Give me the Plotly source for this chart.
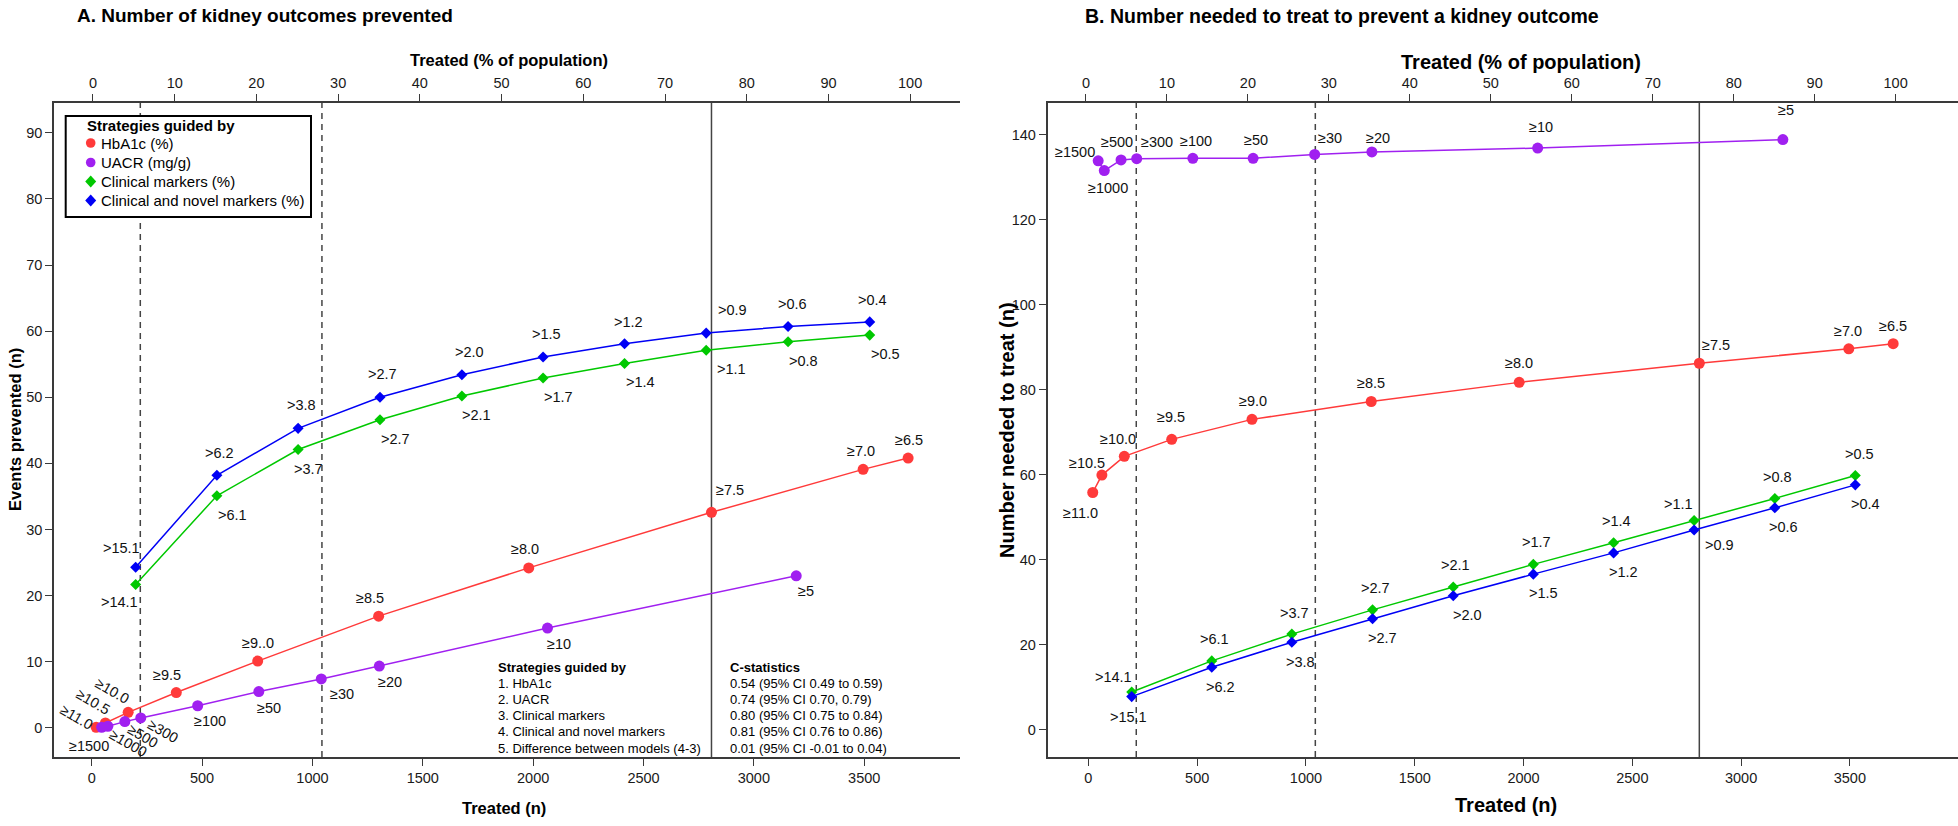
import plotly.graph_objects as go

W, H = 1958, 826

# ---------------- data ----------------
treated_ticks = [0, 500, 1000, 1500, 2000, 2500, 3000, 3500]
pct_ticks = [0, 10, 20, 30, 40, 50, 60, 70, 80, 90, 100]
events_ticks = [0, 10, 20, 30, 40, 50, 60, 70, 80, 90]
nnt_ticks = [0, 20, 40, 60, 80, 100, 120, 140]

hba1c_labels_a = ["≥11.0", "≥10.5", "≥10.0", "≥9.5", "≥9..0", "≥8.5", "≥8.0", "≥7.5", "≥7.0", "≥6.5"]
hba1c_labels_b = ["≥11.0", "≥10.5", "≥10.0", "≥9.5", "≥9.0", "≥8.5", "≥8.0", "≥7.5", "≥7.0", "≥6.5"]
hba1c_treated = [20, 62, 165, 383, 752, 1300, 1980, 2808, 3495, 3699]
hba1c_prevented = [0.1, 0.75, 2.35, 5.35, 10.1, 16.9, 24.2, 32.6, 39.1, 40.8]
hba1c_nnt = [55.8, 59.9, 64.3, 68.3, 73.0, 77.2, 81.7, 86.2, 89.6, 90.8]

uacr_labels = ["≥1500", "≥1000", "≥500", "≥300", "≥100", "≥50", "≥30", "≥20", "≥10", "≥5"]
uacr_treated = [45, 73, 150, 222, 480, 757, 1040, 1303, 2065, 3192]
uacr_prevented = [0.1, 0.25, 0.95, 1.5, 3.35, 5.5, 7.4, 9.35, 15.1, 23.0]
uacr_nnt = [133.8, 131.5, 134.0, 134.3, 134.4, 134.4, 135.3, 135.9, 136.8, 138.8]

clinical_labels = [">14.1", ">6.1", ">3.7", ">2.7", ">2.1", ">1.7", ">1.4", ">1.1", ">0.8", ">0.5"]
novel_labels = [">15.1", ">6.2", ">3.8", ">2.7", ">2.0", ">1.5", ">1.2", ">0.9", ">0.6", ">0.4"]
markers_treated = [199, 567, 935, 1306, 1677, 2045, 2414, 2784, 3155, 3525]
clinical_prevented = [21.7, 35.1, 42.1, 46.6, 50.2, 52.9, 55.1, 57.1, 58.4, 59.4]
novel_prevented = [24.3, 38.2, 45.3, 50.0, 53.4, 56.1, 58.1, 59.7, 60.7, 61.4]
clinical_nnt = [8.9, 16.2, 22.5, 28.2, 33.6, 38.9, 44.0, 49.2, 54.4, 59.8]
novel_nnt = [7.8, 14.7, 20.6, 26.1, 31.5, 36.6, 41.6, 47.0, 52.2, 57.6]

dashed_lines_treated = [220, 1043]
solid_lines_treated = [2808]

legend_title = "Strategies guided by"
legend_items = ["HbA1c (%)", "UACR (mg/g)", "Clinical markers (%)", "Clinical and novel markers (%)"]
table_left = ["Strategies guided by", "1. HbA1c", "2. UACR", "3. Clinical markers",
              "4. Clinical and novel markers", "5. Difference between models (4-3)"]
table_right = ["C-statistics", "0.54 (95% CI 0.49 to 0.59)", "0.74 (95% CI 0.70, 0.79)",
               "0.80 (95% CI 0.75 to 0.84)", "0.81 (95% CI 0.76 to 0.86)",
               "0.01 (95% CI -0.01 to 0.04)"]

# ---------------- style ----------------
RED, PURPLE, GREEN, BLUE = "#FF3A3A", "#A020F0", "#00C800", "#0000F5"
AX = "#3a3a3a"
FONT = "Liberation Sans, Arial, sans-serif"

def px(x):
    return x / W

def py(y):
    return 1 - y / H

LEFT_DOM = [px(54), px(960)]
RIGHT_DOM = [px(1047.5), 1.0]
Y_DOM = [py(757), py(103)]

# label offsets in pixels (dx right, dy down)
A_red_off = [(-20, -10), (-12, -21), (-16, -21), (-9, -18), (0, -18), (-9, -18), (-4, -19), (19, -22), (-2, -18), (1, -18)]
A_red_rot = [30, 30, 30, 0, 0, 0, 0, 0, 0, 0]
A_purple_off = [(-13, 19), (20, 17), (18, 14), (22, 13), (12, 15), (10, 16), (21, 15), (11, 16), (11, 16), (10, 15)]
A_purple_rot = [0, 30, 30, 30, 0, 0, 0, 0, 0, 0]
A_green_off = [(-16, 18), (16, 19), (10, 19), (16, 19), (15, 19), (15, 19), (16, 18), (25, 19), (15, 19), (16, 19)]
A_blue_off = [(-14, -19), (3, -22), (3, -23), (3, -23), (8, -23), (3, -23), (4, -22), (26, -23), (4, -23), (3, -22)]

B_purple_off = [(-23, -9), (4, 17), (-4, -18), (20, -17), (3, -17), (3, -18), (15, -16), (6, -14), (3, -21), (3, -30)]
B_red_off = [(-12, 20), (-15, -12), (-6, -17), (-1, -22), (1, -18), (0, -19), (0, -19), (17, -18), (-1, -18), (0, -18)]
B_green_off = [(-18, -15), (3, -22), (3, -21), (3, -22), (2, -22), (3, -22), (3, -22), (-16, -17), (3, -21), (4, -22)]
B_blue_off = [(-3, 20), (9, 20), (9, 20), (10, 19), (14, 19), (10, 19), (10, 19), (25, 15), (9, 19), (10, 19)]

fig = go.Figure()

def series(x, y, color, symbol, size, xa, ya):
    fig.add_trace(go.Scatter(
        x=x, y=y, mode="lines+markers", xaxis=xa, yaxis=ya, showlegend=False,
        line=dict(color=color, width=1.5),
        marker=dict(color=color, symbol=symbol, size=size, line=dict(width=0)),
        cliponaxis=False, hoverinfo="skip"))

# Panel A
series(hba1c_treated, hba1c_prevented, RED, "circle", 11, "x", "y")
series(uacr_treated, uacr_prevented, PURPLE, "circle", 11, "x", "y")
series(markers_treated, clinical_prevented, GREEN, "diamond", 8.5, "x", "y")
series(markers_treated, novel_prevented, BLUE, "diamond", 8.5, "x", "y")
# Panel B
series(uacr_treated, uacr_nnt, PURPLE, "circle", 11, "x2", "y2")
series(hba1c_treated, hba1c_nnt, RED, "circle", 11, "x2", "y2")
series(markers_treated, clinical_nnt, GREEN, "diamond", 8.5, "x2", "y2")
series(markers_treated, novel_nnt, BLUE, "diamond", 8.5, "x2", "y2")

# invisible traces to carry the top (percent) axes
for xa, ya in (("x3", "y"), ("x4", "y2")):
    fig.add_trace(go.Scatter(x=[pct_ticks[0], pct_ticks[-1]], y=[None, None], xaxis=xa, yaxis=ya,
                             mode="markers", showlegend=False, hoverinfo="skip"))

def labels(texts, xs, ys, offs, xa, ya, rots=None):
    for i, (t, x, y) in enumerate(zip(texts, xs, ys)):
        dx, dy = offs[i]
        fig.add_annotation(text=t, x=x, y=y, xref=xa, yref=ya, xshift=dx, yshift=-dy,
                           showarrow=False, textangle=(rots[i] if rots else 0),
                           font=dict(family=FONT, size=14.5, color="#111"))

labels(hba1c_labels_a, hba1c_treated, hba1c_prevented, A_red_off, "x", "y", A_red_rot)
labels(uacr_labels, uacr_treated, uacr_prevented, A_purple_off, "x", "y", A_purple_rot)
labels(clinical_labels, markers_treated, clinical_prevented, A_green_off, "x", "y")
labels(novel_labels, markers_treated, novel_prevented, A_blue_off, "x", "y")
labels(uacr_labels, uacr_treated, uacr_nnt, B_purple_off, "x2", "y2")
labels(hba1c_labels_b, hba1c_treated, hba1c_nnt, B_red_off, "x2", "y2")
labels(clinical_labels, markers_treated, clinical_nnt, B_green_off, "x2", "y2")
labels(novel_labels, markers_treated, novel_nnt, B_blue_off, "x2", "y2")

# reference vertical lines
for xa, ydom in (("x", "y domain"), ("x2", "y2 domain")):
    for v in dashed_lines_treated:
        fig.add_shape(type="line", xref=xa, yref=ydom, x0=v, x1=v, y0=0, y1=1, layer="below",
                      line=dict(color="#444", width=1.5, dash="6px,5px"))
    for v in solid_lines_treated:
        fig.add_shape(type="line", xref=xa, yref=ydom, x0=v, x1=v, y0=0, y1=1, layer="below",
                      line=dict(color="#444", width=1.5))

axis_common = dict(showline=True, linecolor=AX, linewidth=1.5, ticks="outside", ticklen=7,
                   tickwidth=1.2, tickcolor=AX, showgrid=False, zeroline=False, tickmode="array",
                   tickfont=dict(family=FONT, size=14.5, color="#1a1a1a"))

fig.update_layout(
    width=W, height=H, margin=dict(l=0, r=0, t=0, b=0),
    paper_bgcolor="white", plot_bgcolor="white", showlegend=False,
    xaxis=dict(domain=LEFT_DOM, anchor="y", range=[-171, 3934], tickvals=treated_ticks, **axis_common),
    yaxis=dict(domain=Y_DOM, anchor="x", range=[-4.4, 94.5], tickvals=events_ticks, **axis_common),
    xaxis3=dict(overlaying="x", side="top", anchor="y", range=[-4.77, 106.1], tickvals=pct_ticks, **axis_common),
    xaxis2=dict(domain=RIGHT_DOM, anchor="y2", range=[-188, 3997], tickvals=treated_ticks, **axis_common),
    yaxis2=dict(domain=Y_DOM, anchor="x2", range=[-6.4, 147.4], tickvals=nnt_ticks, **axis_common),
    xaxis4=dict(overlaying="x2", side="top", anchor="y2", range=[-4.75, 107.7], tickvals=pct_ticks, **axis_common),
)

def text(t, x, y, size, bold=False, xanchor="center", angle=0):
    fig.add_annotation(text=(f"<b>{t}</b>" if bold else t), x=px(x), y=py(y), xref="paper", yref="paper",
                       xanchor=xanchor, yanchor="middle", showarrow=False, textangle=angle,
                       font=dict(family=FONT, size=size, color="#000"))

# titles
text("A. Number of kidney outcomes prevented", 75, 16, 19, True, "left")
text("B. Number needed to treat to prevent a kidney outcome", 1083, 16, 19.5, True, "left")
text("Treated (% of population)", 509, 60, 16.5, True)
text("Treated (% of population)", 1521, 62, 20, True)
text("Treated (n)", 504, 808, 16.5, True)
text("Treated (n)", 1506, 805, 20, True)
text("Events prevented (n)", 15, 430, 16.5, True, angle=-90)
text("Number needed to treat (n)", 1007, 430, 20, True, angle=-90)

# legend box (panel A)
fig.add_shape(type="rect", xref="paper", yref="paper", x0=px(65.7), x1=px(311), y0=py(217), y1=py(116),
              line=dict(color="#000", width=2), fillcolor="white", layer="above")
text(legend_title, 85, 125, 15, True, "left")
leg_colors = [RED, PURPLE, GREEN, BLUE]
leg_symbols = ["circle", "circle", "diamond", "diamond"]
leg_y = [143, 162.5, 181.5, 200.5]
for name, col, sym, yy in zip(legend_items, leg_colors, leg_symbols, leg_y):
    cx = 90.7
    if sym == "circle":
        fig.add_shape(type="circle", xref="paper", yref="paper", x0=px(cx - 4.8), x1=px(cx + 4.8),
                      y0=py(yy + 4.8), y1=py(yy - 4.8), fillcolor=col, line=dict(width=0))
    else:
        path = (f"M {px(cx - 5.5)} {py(yy)} L {px(cx)} {py(yy - 6)} L {px(cx + 5.5)} {py(yy)} "
                f"L {px(cx)} {py(yy + 6)} Z")
        fig.add_shape(type="path", xref="paper", yref="paper", path=path, fillcolor=col, line=dict(width=0))
    text(name, 99, yy, 15, False, "left")

# C-statistics table
tab_y = [667.3, 683.3, 699.3, 715.7, 731.7, 748]
for i, (a, b) in enumerate(zip(table_left, table_right)):
    text(a, 495.5, tab_y[i], 13, i == 0, "left")
    text(b, 728.3, tab_y[i], 13, i == 0, "left")

fig.write_html(
    "out.html",
    config={"displayModeBar": False},
    post_script="document.body.style.margin='0';document.body.style.overflow='hidden';"
                "document.documentElement.style.overflow='hidden';",
)
